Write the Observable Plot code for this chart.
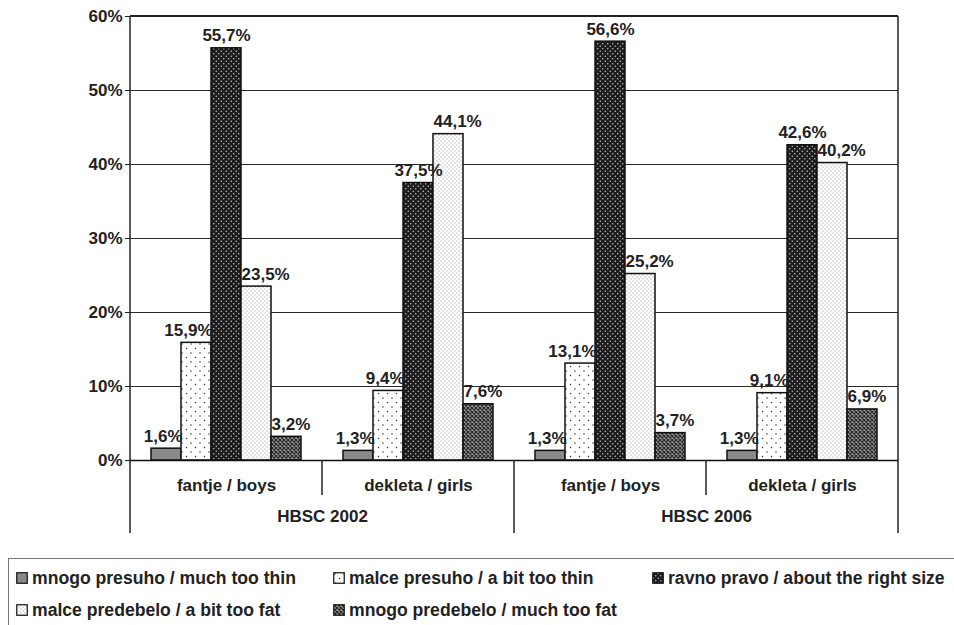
<!DOCTYPE html>
<html>
<head>
<meta charset="utf-8">
<script src="https://cdn.jsdelivr.net/npm/d3@7"></script>
<script src="https://cdn.jsdelivr.net/npm/@observablehq/plot@0.6"></script>
<style>
  html, body { margin: 0; padding: 0; background: #fff; overflow: hidden; }
  body { font-family: "Liberation Sans", Arial, sans-serif; color: #222; }
  #chart svg { display: block; }
  #legend {
    position: absolute; left: 8px; top: 558px; width: 1000px; height: 90px;
    border: 1.5px solid #777; box-sizing: border-box; padding: 3px 0 0 7px;
    display: grid; grid-template-columns: 317px 319px auto; grid-auto-rows: 32px;
    font-size: 17.6px; font-weight: bold; color: #222;
  }
  #legend .item { display: flex; align-items: center; white-space: nowrap; }
  #legend svg { margin-right: 4px; flex: none; }
</style>
</head>
<body>
<div id="chart"></div>
<div id="legend"></div>
<script>
// ---- data ----
const groupLabels = ["fantje / boys", "dekleta / girls", "fantje / boys", "dekleta / girls"];
const yearLabels = ["HBSC 2002", "HBSC 2006"];
const yearOfGroup = [0, 0, 1, 1];
const categories = [
  "mnogo presuho / much too thin",
  "malce presuho / a bit too thin",
  "ravno pravo / about the right size",
  "malce predebelo / a bit too fat",
  "mnogo predebelo / much too fat"
];
const muchTooThin = [1.6, 1.3, 1.3, 1.3];
const bitTooThin  = [15.9, 9.4, 13.1, 9.1];
const rightSize   = [55.7, 37.5, 56.6, 42.6];
const bitTooFat   = [23.5, 44.1, 25.2, 40.2];
const muchTooFat  = [3.2, 7.6, 3.7, 6.9];
const yTicks = [0, 10, 20, 30, 40, 50, 60];

const series = [muchTooThin, bitTooThin, rightSize, bitTooFat, muchTooFat];
const patternIds = ["pThin", "pBitThin", "pRight", "pBitFat", "pFat"];

const data = [];
series.forEach((vals, c) => vals.forEach((v, g) => data.push({g, c, cat: categories[c], v})));

const yearData = yearLabels.map((label, k) => ({g: yearOfGroup.indexOf(k), label}));

const fmt = v => v.toFixed(1).replace(".", ",") + "%";

// label alignment per series so labels do not sit on dark neighbouring bars
const labelSets = [
  {cs: [0, 1], textAnchor: "end", dx: 16},
  {cs: [2], textAnchor: "middle", dx: 0},
  {cs: [3, 4], textAnchor: "start", dx: -15}
];

const chart = Plot.plot({
  width: 954,
  height: 548,
  marginLeft: 130,
  marginRight: 56,
  marginTop: 16,
  marginBottom: 88,
  style: {fontFamily: "'Liberation Sans', Arial, sans-serif", fontSize: "17px", fontWeight: "bold", color: "#222", background: "#fff"},
  fx: {domain: [0, 1, 2, 3], paddingInner: 0, paddingOuter: 0, label: null},
  x: {domain: categories, paddingInner: 0, paddingOuter: 0.7, axis: null},
  y: {domain: [0, 60], label: null},
  color: {domain: categories, range: patternIds.map(id => `url(#${id})`)},
  marks: [
    Plot.gridY(yTicks.slice(1), {stroke: "#2a2a2a", strokeOpacity: 1, strokeWidth: 1.2}),
    Plot.barY(data, {fx: "g", x: "cat", y: "v", fill: "cat", stroke: "#111", strokeWidth: 1.5}),
    ...labelSets.map(s => Plot.text(data.filter(d => s.cs.includes(d.c)), {
      fx: "g", x: "cat", y: "v", text: d => fmt(d.v), lineAnchor: "bottom", dy: -7,
      textAnchor: s.textAnchor, dx: s.dx, fill: "#222", fontSize: 17, fontWeight: "bold"
    })),
    Plot.ruleY([0], {stroke: "#111", strokeWidth: 1.5}),
    Plot.axisY({ticks: yTicks, tickFormat: d => d + "%", tickSize: 5, tickPadding: 3, stroke: "#222", label: null, fontSize: 17, fontWeight: "bold"}),
    Plot.axisFx({anchor: "bottom", tickSize: 0, tickPadding: 18, tickFormat: i => groupLabels[i], label: null, fontSize: 17, fontWeight: "bold"}),
    Plot.text(yearData, {fx: "g", text: "label", frameAnchor: "bottom-right", textAnchor: "middle", dy: 61, fill: "#222", fontSize: 17, fontWeight: "bold"})
  ]
});

document.getElementById("chart").append(chart);

// pattern definitions
d3.select(chart).insert("defs", ":first-child").html(`
  <pattern id="pThin" patternUnits="userSpaceOnUse" width="4" height="4">
    <rect width="4" height="4" fill="#8a8a8a"/>
  </pattern>
  <pattern id="pBitThin" patternUnits="userSpaceOnUse" width="9" height="9">
    <rect width="9" height="9" fill="#fff"/>
    <circle cx="2" cy="2" r="0.75" fill="#333"/>
    <circle cx="6.5" cy="6.5" r="0.75" fill="#333"/>
  </pattern>
  <pattern id="pRight" patternUnits="userSpaceOnUse" width="5" height="5">
    <rect width="5" height="5" fill="#1c1c1c"/>
    <circle cx="1.25" cy="1.25" r="0.7" fill="#d8d8d8"/>
    <circle cx="3.75" cy="3.75" r="0.7" fill="#d8d8d8"/>
  </pattern>
  <pattern id="pBitFat" patternUnits="userSpaceOnUse" width="4" height="4">
    <rect width="4" height="4" fill="#fff"/>
    <circle cx="1" cy="1" r="0.6" fill="#888"/>
    <circle cx="3" cy="3" r="0.6" fill="#888"/>
  </pattern>
  <pattern id="pFat" patternUnits="userSpaceOnUse" width="4" height="4">
    <rect width="4" height="4" fill="#9a9a9a"/>
    <path d="M0,0L4,4M4,0L0,4" stroke="#222" stroke-width="1.1"/>
  </pattern>
`);

// structural lines (axis line, frame, group separators) from the library's scales
const fxS = chart.scale("fx");
const yS = chart.scale("y");
const y0 = yS.apply(0), yTop = yS.apply(60);
const left = fxS.range[0], right = fxS.range[1];
const bottomLong = y0 + 73, bottomShort = y0 + 35;
const lines = [
  {x: left, y1: yTop, y2: bottomLong},
  {x: right, y1: yTop, y2: bottomLong},
  {x: fxS.apply(1), y1: y0, y2: bottomShort},
  {x: fxS.apply(2), y1: y0, y2: bottomLong},
  {x: fxS.apply(3), y1: y0, y2: bottomShort}
];
d3.select(chart).append("g")
  .selectAll("line").data(lines).join("line")
  .attr("x1", d => d.x).attr("x2", d => d.x)
  .attr("y1", d => d.y1).attr("y2", d => d.y2)
  .attr("stroke", "#222").attr("stroke-width", 1.5);
d3.select(chart).append("line")
  .attr("x1", left).attr("x2", right).attr("y1", yTop).attr("y2", yTop)
  .attr("stroke", "#222").attr("stroke-width", 1.8);

// legend
const legend = d3.select("#legend");
categories.forEach((cat, i) => {
  const item = legend.append("div").attr("class", "item");
  const s = item.append("svg").attr("width", 12).attr("height", 12);
  s.append("rect").attr("x", 0.75).attr("y", 0.75).attr("width", 10.5).attr("height", 10.5)
    .attr("fill", `url(#${patternIds[i]})`).attr("stroke", "#111").attr("stroke-width", 1.2);
  item.append("span").text(cat);
});
</script>
</body>
</html>
